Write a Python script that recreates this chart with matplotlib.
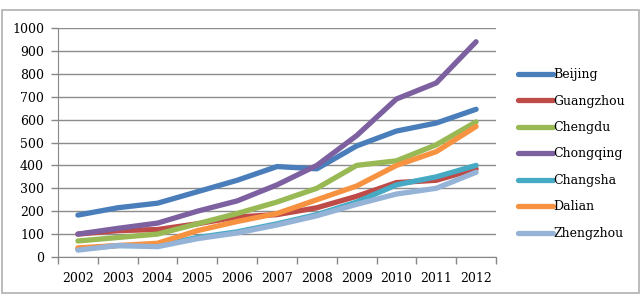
import matplotlib
matplotlib.use("Agg")
import matplotlib.pyplot as plt
from matplotlib.patches import Rectangle

years = ["2002", "2003", "2004", "2005", "2006", "2007", "2008", "2009", "2010", "2011", "2012"]
cities = ["Beijing", "Guangzhou", "Chengdu", "Chongqing", "Changsha", "Dalian", "Zhengzhou"]
beijing = [183, 215, 235, 285, 335, 395, 385, 485, 550, 585, 645]
guangzhou = [100, 115, 120, 145, 175, 185, 215, 265, 325, 335, 385]
chengdu = [70, 85, 100, 145, 190, 240, 300, 400, 420, 490, 590]
chongqing = [100, 125, 148, 200, 245, 315, 400, 530, 690, 760, 940]
changsha = [35, 50, 50, 85, 110, 145, 185, 240, 315, 350, 400]
dalian = [40, 50, 60, 115, 155, 190, 250, 310, 400, 460, 570]
zhengzhou = [30, 50, 45, 80, 105, 140, 180, 230, 275, 300, 370]
series = [beijing, guangzhou, chengdu, chongqing, changsha, dalian, zhengzhou]
colors = ["#4A7EBB", "#BE4B48", "#98B954", "#7D60A0", "#46AAC5", "#F69240", "#95B3D7"]

plt.rcParams.update({"font.family": ["DejaVu Serif"], "font.size": 9})

fig = plt.figure(figsize=(6.42, 2.99), dpi=100)
fig.patches.append(Rectangle((2 / 642, 6 / 299), 637 / 642, 283 / 299, transform=fig.transFigure,
                             fill=False, edgecolor="#b0b0b0", linewidth=1.2))
ax = fig.add_axes([58 / 642, 42 / 299, 438 / 642, 229 / 299])

x = list(range(len(years)))
for name, vals, c in zip(cities, series, colors):
    ax.plot(x, vals, color=c, linewidth=3.8, solid_capstyle="round", solid_joinstyle="round", label=name)

ax.set_xlim(-0.5, len(years) - 0.5)
ax.set_ylim(0, 1000)
ax.set_yticks(range(0, 1001, 100))
ax.set_xticks(x)
ax.set_xticklabels(years)
ax.set_xticks([i - 0.5 for i in range(len(years) + 1)], minor=True)
ax.tick_params(axis="x", which="major", length=0, pad=11)
ax.tick_params(axis="x", which="minor", length=5, color="#888888", width=1)
ax.tick_params(axis="y", length=5, color="#888888", width=1, pad=5)
ax.grid(axis="y", color="#8c8c8c", linewidth=1)
ax.set_axisbelow(True)
for s in ["top", "right"]:
    ax.spines[s].set_visible(False)
for s in ["left", "bottom"]:
    ax.spines[s].set_color("#888888")

leg = ax.legend(loc="upper left", bbox_to_anchor=(513 / 642, 236 / 299), bbox_transform=fig.transFigure,
                frameon=False, handlelength=2.8, handletextpad=0.05, labelspacing=1.08, borderaxespad=0)

fig.savefig("out.png", dpi=100)
